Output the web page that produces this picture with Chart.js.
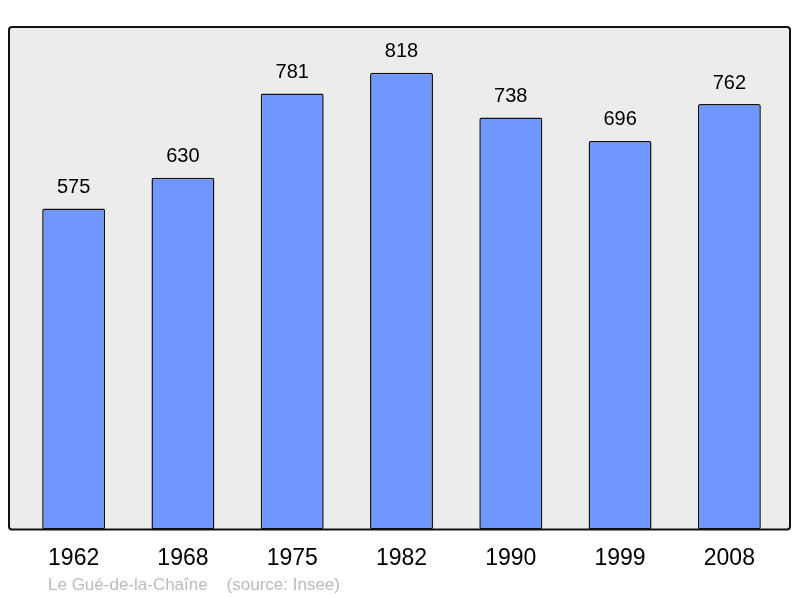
<!DOCTYPE html>
<html>
<head>
<meta charset="utf-8">
<script src="https://cdn.jsdelivr.net/npm/chart.js@4/dist/chart.umd.min.js"></script>
<style>
  html, body { margin: 0; padding: 0; background: #fff; }
  #wrap { width: 800px; height: 598px; }
</style>
</head>
<body>
<div id="wrap"><canvas id="pop-chart"></canvas></div>
<script>
var years = ['1962', '1968', '1975', '1982', '1990', '1999', '2008'];
var population = [575, 630, 781, 818, 738, 696, 762];
var yMin = 0;
var yMax = 900;
var footer = 'Le Gué-de-la-Chaîne    (source: Insee)';

// grey box behind the bars
var boxPlugin = {
  id: 'box',
  beforeDatasetsDraw: function(chart) {
    var a = chart.chartArea, ctx = chart.ctx;
    ctx.save();
    ctx.beginPath();
    ctx.roundRect(a.left - 10, a.top, a.right - a.left + 16, a.bottom - a.top, 3);
    ctx.fillStyle = '#ececec';
    ctx.fill();
    ctx.restore();
  },
  afterDatasetsDraw: function(chart) {
    var a = chart.chartArea, ctx = chart.ctx;
    ctx.save();
    ctx.beginPath();
    ctx.roundRect(a.left - 10, a.top, a.right - a.left + 16, a.bottom - a.top, 3);
    ctx.lineWidth = 2;
    ctx.strokeStyle = '#111';
    ctx.stroke();
    ctx.restore();
  }
};

// numbers above bars + source line
var labelPlugin = {
  id: 'labels',
  afterDraw: function(chart) {
    var ctx = chart.ctx;
    var meta = chart.getDatasetMeta(0);
    ctx.save();
    ctx.font = '20px "Liberation Sans", Arial, sans-serif';
    ctx.fillStyle = '#000';
    ctx.textAlign = 'center';
    ctx.textBaseline = 'middle';
    meta.data.forEach(function(bar, i) {
      ctx.fillText(population[i], bar.x, bar.y - 21);
    });
    ctx.font = '17px "Liberation Sans", Arial, sans-serif';
    ctx.fillStyle = '#bbbbbb';
    ctx.textAlign = 'left';
    ctx.fillText(footer, 48, 585);
    ctx.restore();
  }
};

var ctx = document.getElementById('pop-chart').getContext('2d');
new Chart(ctx, {
  type: 'bar',
  data: {
    labels: years,
    datasets: [{
      data: population,
      backgroundColor: '#7096ff',
      borderColor: '#111',
      borderWidth: 1.5,
      borderRadius: 2,
      borderSkipped: false,
      barPercentage: 0.576,
      categoryPercentage: 1
    }]
  },
  options: {
    responsive: true,
    maintainAspectRatio: false,
    animation: false,
    layout: { padding: { top: 27, left: 19, right: 16, bottom: 11 } },
    plugins: { legend: { display: false }, tooltip: { enabled: false } },
    scales: {
      x: {
        grid: { display: false, drawTicks: false },
        border: { display: false },
        ticks: {
          color: '#000',
          padding: 15,
          font: { size: 23, family: '"Liberation Sans", Arial, sans-serif' }
        }
      },
      y: { display: false, min: yMin, max: yMax }
    }
  },
  plugins: [boxPlugin, labelPlugin]
});
</script>
</body>
</html>
